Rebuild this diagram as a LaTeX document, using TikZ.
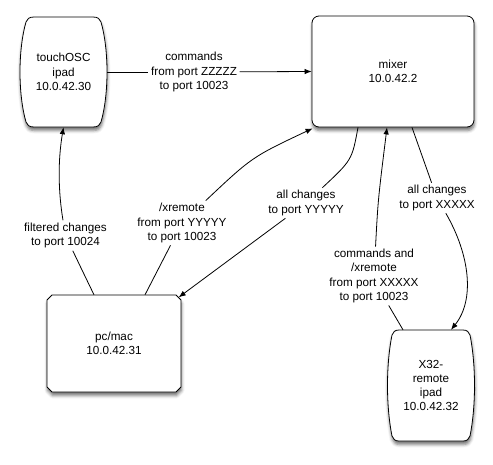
\documentclass[tikz,border=0pt]{standalone}
\usepackage{fontspec}
\setmainfont{Liberation Sans}
\usetikzlibrary{arrows.meta,shadows.blur,calc}
\newcommand\lblfont{\fontsize{11.7}{14.2}\selectfont}
\begin{document}
\begin{tikzpicture}[x=1pt,y=-1pt,
  shp/.style={draw=black, line width=0.8pt, fill=white,
    blur shadow={shadow xshift=0.5pt, shadow yshift=-3.5pt, shadow blur radius=3pt, shadow opacity=55}},
  box/.style={inner sep=0pt, align=center, font=\lblfont, text=black},
  lbl/.style={inner sep=2.5pt, align=center, font=\lblfont, text=black},
  con/.style={line width=0.8pt, draw=black},
  arr/.style={con, -{Latex[length=7pt,width=5.5pt]}}]
\useasboundingbox (0,0) rectangle (493,464);

% shapes
\path[shp] (34,17) -- (93,17) .. controls (98,17) and (100,19) .. (101,22)
  .. controls (109,50) and (109,94) .. (101,122) .. controls (100,125) and (98,127) .. (93,127)
  -- (34,127) .. controls (29,127) and (27,125) .. (26,122)
  .. controls (18,94) and (18,50) .. (26,22) .. controls (27,19) and (29,17) .. (34,17) -- cycle;
\path[shp] (399,330) -- (463,330) .. controls (467,330) and (469,332) .. (470,335)
  .. controls (476,365) and (476,406) .. (470,436) .. controls (469,439) and (467,441) .. (463,441)
  -- (399,441) .. controls (395,441) and (393,439) .. (392,436)
  .. controls (386,406) and (386,365) .. (392,335) .. controls (393,332) and (395,330) .. (399,330) -- cycle;
\path[shp] (52,295) -- (176,295) -- (181,300) -- (181,387) -- (176,392) -- (52,392) -- (47,387) -- (47,300) -- cycle;

% nodes
\node[box, minimum width=87pt, minimum height=110pt] (touch) at (63.5,72) {touchOSC\\ipad\\10.0.42.30};
\node[box, shp, rounded corners=7pt, minimum width=162pt, minimum height=111pt] (mixer) at (393,71.5) {mixer\\10.0.42.2};
\node[box, minimum width=134pt, minimum height=97pt] (pc) at (114,343.5) {pc/mac\\10.0.42.31};
\node[box, minimum width=86pt, minimum height=111pt] (x32) at (431,385.5) {X32-\\remote\\ipad\\10.0.42.32};

% labels
\node[lbl] (l1) at (194,72) {commands\\from port ZZZZZ\\to port 10023};
\node[lbl] (l2) at (65.5,235.5) {filtered changes\\to port 10024};
\node[lbl] (l3) at (182,223) {/xremote\\from port YYYYY\\to port 10023};
\node[lbl] (l4) at (306,203) {all changes\\to port YYYYY};
\node[lbl] (l5) at (374,276) {commands and\\/xremote\\from port XXXXX\\to port 10023};
\node[lbl] (l6) at (437,198) {all changes\\to port XXXXX};

\coordinate (pcA) at ([xshift=-20pt]pc.north);
\coordinate (pcB) at ([xshift=31pt]pc.north);
\coordinate (pcC) at ([xshift=-2.5pt,yshift=-2.5pt]pc.north east);
\coordinate (mxA) at ([xshift=-35pt]mixer.south);
\coordinate (mxB) at ([xshift=-6pt]mixer.south);
\coordinate (mxC) at ([xshift=19pt]mixer.south);
\coordinate (mxD) at ([xshift=1pt,yshift=-1pt]mixer.south west);
\coordinate (xA) at ([xshift=-28pt]x32.north);
\coordinate (xB) at ([xshift=20pt]x32.north);

% connectors
\draw[con] (touch.east) -- (l1);
\draw[arr] (l1) -- (mixer.west);

\draw[con] (pcA) .. controls (82,270) .. (l2);
\draw[arr] (l2) .. controls (58,190) and (58,160) .. (touch.south);

\draw[con] (pcB) -- (l3);
\draw[arr] (l3) .. controls (252,157) .. (mxD);

\draw[con] (mxA) .. controls (352,160) .. (l4);
\draw[arr] (l4) -- (pcC);

\draw[con] (xA) .. controls (395,318) .. (l5);
\draw[arr] (l5) .. controls (378,200) .. (mxB);

\draw[con] (mxC) -- (l6);
\draw[arr] (l6) .. controls (470,255) and (475,300) .. (xB);
\end{tikzpicture}
\end{document}
